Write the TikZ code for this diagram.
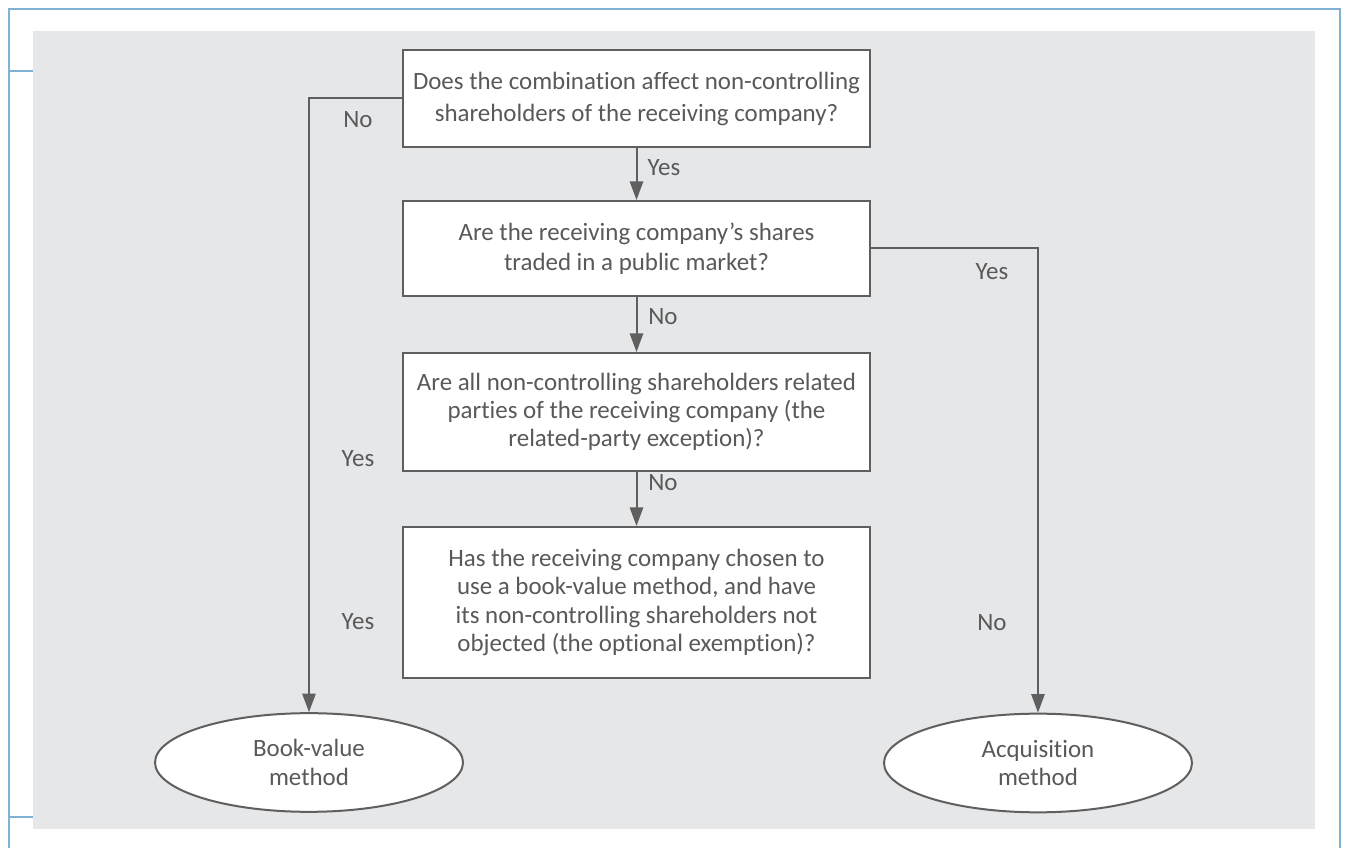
\documentclass[tikz,border=0pt]{standalone}
\usepackage{fontspec}
\setmainfont{Carlito}[Ligatures={TeX,NoCommon}]
\usepackage{tikz}
\usetikzlibrary{arrows.meta,shapes.geometric}
\definecolor{framebl}{RGB}{127,178,211}
\definecolor{panelgr}{RGB}{230,231,233}
\definecolor{linegr}{RGB}{95,95,95}
\definecolor{textgr}{RGB}{89,89,89}
\tikzstyle{question}=[draw=linegr,line width=1.5pt,fill=white,minimum width=350pt,align=center,text=textgr,inner sep=0pt]
\tikzstyle{outcome}=[ellipse,draw=linegr,line width=1.5pt,fill=white,minimum width=231pt,minimum height=74pt,align=center,text=textgr,inner sep=0pt]
\tikzstyle{answer}=[text=textgr,inner sep=0pt]
\tikzstyle{arrow} = [draw,linegr,line width=1.5pt,-{Triangle[width=10pt,length=14pt]}]

\begin{document}
\begin{tikzpicture}[x=0.75pt,y=-0.75pt,font=\fontsize{18.7}{21.2}\selectfont]
    \useasboundingbox (0,0) rectangle (1347,848);
    % Frame and grey panel
    \draw[framebl,line width=1.5pt] (9,848) -- (9,9) -- (1340,9) -- (1340,848);
    \draw[framebl,line width=1.5pt] (9,71) -- (40,71) (9,817) -- (40,817);
    \fill[panelgr] (33,31) rectangle (1315,829);
    % First we draw the questions
    \node[question,minimum height=72.75pt] (q1) at (636.5,98.5) {Does the combination affect non-controlling\\[2.8pt] shareholders of the receiving company?};
    \node[question,minimum height=71.25pt] (q2) at (636.5,248.5) {Are the receiving company's shares\\[1.3pt] traded in a public market?};
    \node[question,minimum height=88.5pt] (q3) at (636.5,412) {Are all non-controlling shareholders related\\ parties of the receiving company (the\\ related-party exception)?};
    \node[question,minimum height=113.25pt] (q4) at (636.5,602.5) {Has the receiving company chosen to\\ use a book-value method, and have\\ its non-controlling shareholders not\\ objected (the optional exemption)?};
    % Then the two outcomes
    \node[outcome] (bv) at (309,762.5) {Book-value\\ method};
    \node[outcome] (acq) at (1038,763) {Acquisition\\ method};
    % Connect questions with arrows
    \foreach \source/ \dest in {q1/q2, q2/q3, q3/q4}
        \path[arrow] (\source) -- (\dest) ;
    \path[arrow] (q1.west) -| (bv) ;
    \path[arrow] (q2.east) -| (acq) ;
    % Yes / No answers
    \foreach \pos/\txt/\name in {{(358,120)/No/a1}, {(664,168)/Yes/a2}, {(992,272)/Yes/a3}, {(663,317)/No/a4}, {(663,483)/No/a5}, {(358,459)/Yes/a6}, {(358,622)/Yes/a7}, {(992,623)/No/a8}}
        \node[answer] (\name) at \pos {\txt};
\end{tikzpicture}
\end{document}
